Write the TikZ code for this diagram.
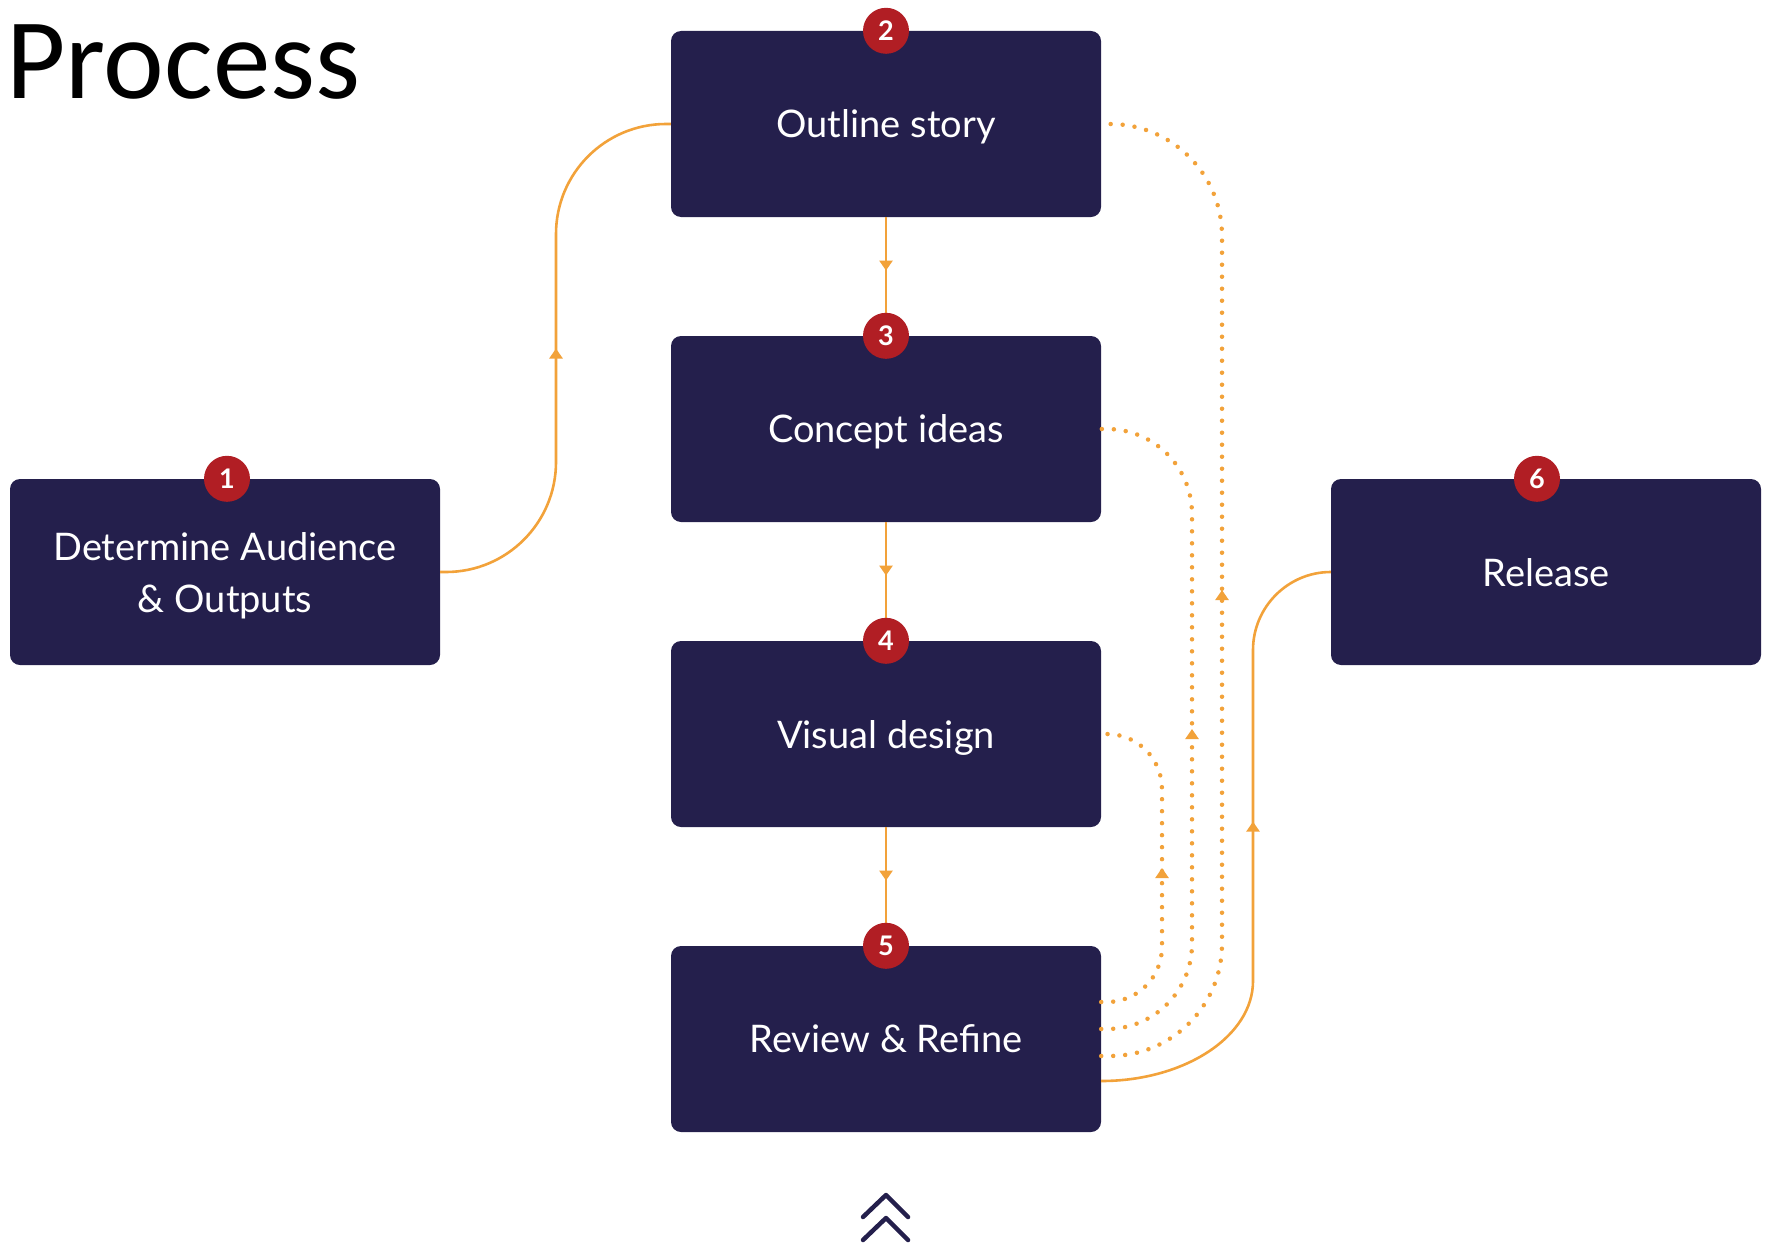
\documentclass[tikz,border=0pt]{standalone}
\usepackage{fontspec}
\setmainfont{Lato}
\newfontfamily\titlefont{Carlito}
\usetikzlibrary{arrows.meta,decorations.markings,calc}

\definecolor{boxnavy}{HTML}{241F4C}
\definecolor{badgered}{HTML}{B11E24}
\definecolor{flow}{HTML}{F2A23A}

\tikzset{
  stepbox/.style={rectangle, rounded corners=10pt, fill=boxnavy, text=white,
    minimum width=430pt, minimum height=186pt, inner sep=0pt, align=center,
    text depth=0pt, font=\fontsize{38}{52}\selectfont},
  badge/.style={circle, fill=badgered, text=white, minimum size=46pt, inner sep=0pt,
    font=\bfseries\fontsize{27}{27}\selectfont},
  tipmark/.style={decoration={markings,
      mark=at position #1 with {\arrow{Triangle[width=13pt,length=10pt]}}},
    postaction={decorate}},
  flowline/.style={draw=flow, line width=2.6pt},
  loopline/.style={draw=flow, line width=4.5pt, line cap=round, dash pattern=on 0pt off 12pt},
  chevron/.style={draw=boxnavy, line width=4.5pt, line cap=round, line join=round},
}

\begin{document}
\begin{tikzpicture}[x=1pt, y=-1pt]
  \useasboundingbox (0,0) rectangle (1769,1247);

  % heading
  \node[anchor=base west, inner sep=0pt, font=\titlefont\fontsize{115}{115}\selectfont]
    (title) at (6,98) {Process};

  % process steps
  \node[stepbox] (b1) at (225,572)   {Determine Audience\\\& Outputs};
  \node[stepbox] (b2) at (886,124)   {Outline story};
  \node[stepbox] (b3) at (886,429)   {Concept ideas};
  \node[stepbox] (b4) at (886,734)   {Visual design};
  \node[stepbox] (b5) at (886,1039)  {Review \& Refine};
  \node[stepbox] (b6) at (1546,572)  {Release};

  % main flow
  \draw[flowline, rounded corners=110pt, tipmark=0.5]
    (b1.east) -- (556,572) -- (556,124) -- (b2.west);
  \draw[flowline, tipmark=0.45] (b2.south) -- (b3.north);
  \draw[flowline, tipmark=0.45] (b3.south) -- (b4.north);
  \draw[flowline, tipmark=0.45] (b4.south) -- (b5.north);
  \draw[flowline, tipmark=0.55]
    ($(b5.east)+(0,42)$) .. controls (1185,1081) and (1253,1036) .. (1253,981)
    -- (1253,650) .. controls (1253,607) and (1288,572) .. (b6.west);

  % feedback loops from review
  \draw[loopline, rounded corners=55pt, tipmark=0.5]
    ($(b5.east)+(0,-37)$) -- (1162,1002) -- (1162,734) -- (b4.east);
  \draw[loopline, rounded corners=85pt, tipmark=0.5]
    ($(b5.east)+(0,-10)$) -- (1192,1029) -- (1192,429) -- (b3.east);
  \draw[loopline, rounded corners=112pt, tipmark=0.5]
    ($(b5.east)+(0,17)$) -- (1222,1056) -- (1222,124) -- (b2.east);

  % step numbers
  \node[badge] (n1) at ($(b1.north)+(2,0)$) {1};
  \node[badge] (n2) at (b2.north) {2};
  \node[badge] (n3) at (b3.north) {3};
  \node[badge] (n4) at (b4.north) {4};
  \node[badge] (n5) at (b5.north) {5};
  \node[badge] (n6) at ($(b6.north)+(-9,0)$) {6};

  % scroll-up chevrons
  \coordinate (chev) at (886,1195);
  \draw[chevron] ($(chev)+(-23,22)$) -- (chev) -- ($(chev)+(22,22)$);
  \draw[chevron] ($(chev)+(-23,45)$) -- ($(chev)+(0,23)$) -- ($(chev)+(22,45)$);
\end{tikzpicture}
\end{document}
